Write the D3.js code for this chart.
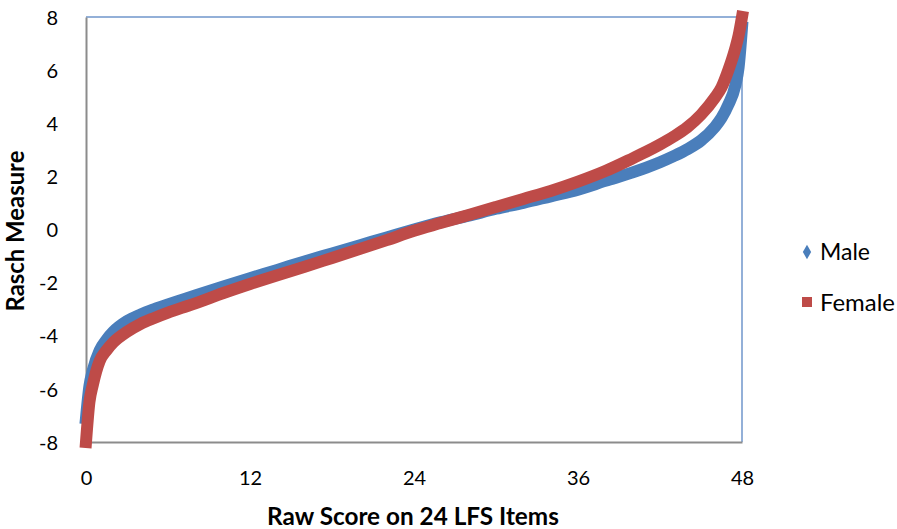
<!DOCTYPE html>
<html>
<head>
<meta charset="utf-8">
<script src="https://cdn.jsdelivr.net/npm/d3@7"></script>
<style>
  html, body { margin: 0; padding: 0; background: #fff; }
  svg { display: block; }
  text { font-family: Lato, "Open Sans", sans-serif; fill: #000; }
</style>
</head>
<body>
<svg id="chart" width="897" height="529"></svg>
<script>
// ---- data ----
const rawScores = [0, 0.25, 0.5, 1, 1.5, 2, 3, 4, 5, 6, 7, 8, 10, 12, 14, 16, 18, 20, 22, 24, 26, 28, 30, 32, 34, 36, 38, 40, 41, 42, 43, 44, 45, 46, 46.5, 47, 47.5, 47.75, 48];
const maleMeasures = [-7.1, -5.9, -5.3, -4.55, -4.15, -3.85, -3.45, -3.2, -3.0, -2.82, -2.65, -2.48, -2.15, -1.83, -1.52, -1.2, -0.9, -0.6, -0.3, 0.0, 0.28, 0.52, 0.78, 1.0, 1.25, 1.5, 1.83, 2.15, 2.33, 2.53, 2.76, 3.02, 3.35, 3.85, 4.2, 4.7, 5.4, 6.1, 7.6];
const femaleMeasures = [-8.0, -6.5, -5.85, -4.95, -4.55, -4.25, -3.85, -3.55, -3.33, -3.13, -2.95, -2.78, -2.4, -2.05, -1.72, -1.4, -1.07, -0.74, -0.4, -0.05, 0.25, 0.55, 0.85, 1.15, 1.45, 1.8, 2.2, 2.68, 2.93, 3.2, 3.5, 3.85, 4.32, 4.95, 5.35, 6.0, 6.8, 7.3, 8.0];
const seriesNames = ["Male", "Female"];
const xTicks = [0, 12, 24, 36, 48];
const yTicks = [-8, -6, -4, -2, 0, 2, 4, 6, 8];
const xTitle = "Raw Score on 24 LFS Items";
const yTitle = "Rasch Measure";

// ---- layout ----
const svg = d3.select("#chart");
const plot = { left: 86, right: 742, top: 17, bottom: 442 };
const colors = { Male: "#4a7ebb", Female: "#be4b48" };

const x = d3.scaleLinear().domain([0, 48]).range([plot.left, plot.right]);
const y = d3.scaleLinear().domain([-8, 8]).range([plot.bottom, plot.top]);

// plot-area border (top & right blue-ish)
svg.append("line").attr("x1", plot.left).attr("x2", plot.right).attr("y1", plot.top).attr("y2", plot.top)
  .attr("stroke", "#6f96cb").attr("stroke-width", 1.5);
svg.append("line").attr("x1", plot.right).attr("x2", plot.right).attr("y1", plot.top).attr("y2", plot.bottom)
  .attr("stroke", "#6f96cb").attr("stroke-width", 1.5);

// axes
const fmt = d => String(d);
const xAxis = d3.axisBottom(x).tickValues(xTicks).tickFormat(fmt).tickSize(0).tickPadding(0);
const yAxis = d3.axisLeft(y).tickValues(yTicks).tickFormat(fmt).tickSize(0).tickPadding(0);

const gx = svg.append("g").attr("transform", `translate(0,${plot.bottom})`).call(xAxis);
gx.select(".domain").attr("stroke", "#8c8c8c").attr("stroke-width", 2);
gx.selectAll("text").attr("font-size", 20).attr("dy", null).attr("y", 43)
  .attr("font-family", "Lato, sans-serif").attr("fill", "#000");

const gy = svg.append("g").attr("transform", `translate(${plot.left},0)`).call(yAxis);
gy.select(".domain").attr("stroke", "#8c8c8c").attr("stroke-width", 2);
gy.selectAll("text").attr("font-size", 20).attr("x", -28).attr("dy", "0.36em")
  .attr("font-family", "Lato, sans-serif").attr("fill", "#000");

// series
const series = seriesNames.map(name => ({
  name,
  values: rawScores.map((s, i) => ({ s, v: name === "Male" ? maleMeasures[i] : femaleMeasures[i] }))
}));

const line = d3.line().x(d => x(d.s)).y(d => y(d.v)).curve(d3.curveMonotoneX);

svg.append("g").selectAll("path").data(series).join("path")
  .attr("d", d => line(d.values))
  .attr("fill", "none")
  .attr("stroke", d => colors[d.name])
  .attr("stroke-width", 12)
  .attr("stroke-linejoin", "round")
  .attr("stroke-linecap", "square");

// axis titles
function fitWidth(sel, target) {
  const w = sel.node().getComputedTextLength();
  const fs = parseFloat(sel.attr("font-size"));
  sel.attr("font-size", fs * target / w);
}
const xt = svg.append("text").attr("x", (267 + 559) / 2).attr("y", 525)
  .attr("text-anchor", "middle").attr("font-weight", "bold").attr("font-size", 20).text(xTitle);
fitWidth(xt, 292);

const yt = svg.append("text").attr("transform", "translate(24,231) rotate(-90)")
  .attr("text-anchor", "middle").attr("font-weight", "bold").attr("font-size", 20).text(yTitle);
fitWidth(yt, 161);

// legend
const legend = svg.append("g");
const legY = { Male: 252, Female: 302 };
legend.append("path")
  .attr("d", d3.symbol(d3.symbolDiamond, 60)())
  .attr("transform", `translate(807,${legY.Male})`)
  .attr("fill", colors.Male);
legend.append("rect")
  .attr("x", 802).attr("y", legY.Female - 5).attr("width", 10).attr("height", 10)
  .attr("fill", colors.Female);
seriesNames.forEach(name => {
  const t = legend.append("text").attr("x", 820).attr("y", legY[name]).attr("dy", "0.36em")
    .attr("font-size", 20).text(name);
  fitWidth(t, name === "Male" ? 50 : 75);
});
</script>
</body>
</html>
